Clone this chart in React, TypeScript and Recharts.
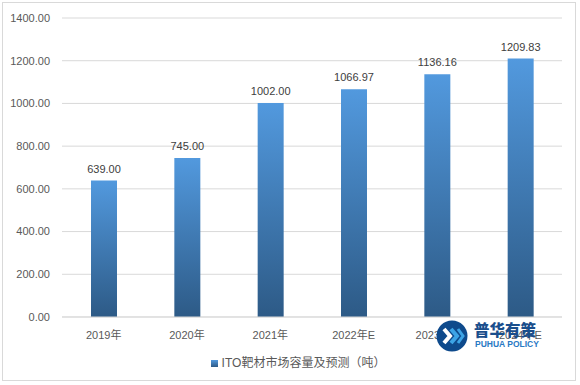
import React from 'react';
import { BarChart, Bar, XAxis, YAxis, CartesianGrid, Legend, LabelList } from 'recharts';

const categories = ['2019年', '2020年', '2021年', '2022年E', '2023年E', '2024年E'];
const values = [639.0, 745.0, 1002.0, 1066.97, 1136.16, 1209.83];
const yTicks = [0, 200, 400, 600, 800, 1000, 1200, 1400];
const seriesName = 'ITO靶材市场容量及预测（吨）';

const data = categories.map((c, i) => ({ name: c, value: values[i] }));

const FONT = '"Liberation Sans", Arial, "Noto Sans CJK SC", sans-serif';

export default function App() {
  return (
    <div style={{ position: 'absolute', left: 0, top: 0, width: 580, height: 385, background: '#fff', fontFamily: FONT }}>
      <div style={{ position: 'absolute', left: 2, top: 2, width: 574, height: 379, border: '1px solid #d9d9d9', boxSizing: 'border-box' }} />
      <BarChart
        width={580}
        height={385}
        data={data}
        margin={{ top: 18, right: 18, left: 0, bottom: 26 }}
        style={{ position: 'absolute', left: 0, top: 0 }}
      >
        <defs>
          <linearGradient id="barGrad" x1="0" y1="0" x2="0" y2="1">
            <stop offset="0%" stopColor="#5299DE" />
            <stop offset="100%" stopColor="#2D5A86" />
          </linearGradient>
        </defs>
        <CartesianGrid vertical={false} stroke="#d9d9d9" />
        <XAxis
          dataKey="name"
          axisLine={{ stroke: '#d9d9d9' }}
          tickLine={false}
          tick={{ fill: '#595959', fontSize: 11, fontFamily: FONT }}
          tickMargin={8}
          height={25}
          interval={0}
        />
        <YAxis
          width={62}
          domain={[0, 1400]}
          ticks={yTicks}
          axisLine={false}
          tickLine={false}
          tick={{ fill: '#595959', fontSize: 11, fontFamily: FONT }}
          tickFormatter={(v: number) => v.toFixed(2)}
          tickMargin={6}
        />
        <Legend
          verticalAlign="bottom"
          iconType="square"
          iconSize={7}
          wrapperStyle={{ fontSize: 12, fontFamily: FONT, bottom: 15, paddingLeft: 22 }}
          formatter={(v: string) => <span style={{ color: '#595959' }}>{v}</span>}
        />
        <Bar dataKey="value" name={seriesName} fill="url(#barGrad)" barSize={26} isAnimationActive={false}>
          <LabelList
            dataKey="value"
            position="top"
            offset={8}
            formatter={(v: number) => v.toFixed(2)}
            style={{ fill: '#404040', fontSize: 11, fontFamily: FONT }}
          />
        </Bar>
      </BarChart>
      <div style={{ position: 'absolute', left: 436, top: 320, width: 110, height: 32 }}>
        <svg width={32} height={32} style={{ position: 'absolute', left: 0, top: 0 }}>
          <circle cx={16} cy={16} r={15.5} fill="#0E4A8C" />
          <polyline points="8,9 14,16 8,23" fill="none" stroke="#ffffff" strokeWidth={4} />
          <polyline points="15,9 21,16 15,23" fill="none" stroke="#3DA4E6" strokeWidth={4} />
          <polyline points="22,9 27,16 22,23" fill="none" stroke="#3DA4E6" strokeWidth={3} />
        </svg>
        <div style={{ position: 'absolute', left: 38, top: 1, fontSize: 15.5, fontWeight: 900, color: '#1A4E8C', fontFamily: '"Noto Sans CJK SC", sans-serif', lineHeight: '16px', letterSpacing: 0 }}>普华有策</div>
        <div style={{ position: 'absolute', left: 39, top: 19, fontSize: 8.5, fontWeight: 'bold', color: '#2879C4', fontFamily: FONT, lineHeight: '10px' }}>PUHUA POLICY</div>
      </div>
    </div>
  );
}
